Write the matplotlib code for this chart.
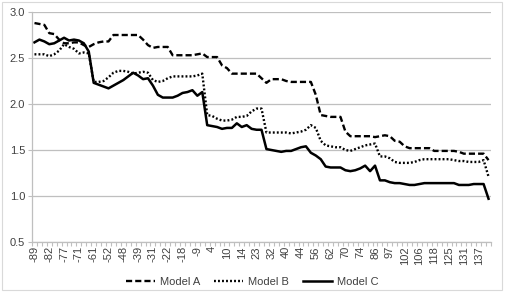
import numpy as np
import matplotlib
matplotlib.use("Agg")
import matplotlib.pyplot as plt
from matplotlib.patches import Rectangle

# category labels shown on the axis (every 3rd category is labelled)
tick_labels = ["-89", "-82", "-77", "-71", "-61", "-52", "-48", "-39", "-31", "-22",
               "-18", "-9", "4", "10", "14", "23", "32", "40", "44", "56",
               "62", "70", "74", "86", "97", "102", "106", "118", "125", "131", "137"]

model_a = [2.88, 2.87, 2.86, 2.77, 2.76, 2.70, 2.66, 2.66, 2.67, 2.67,
           2.64, 2.62, 2.65, 2.67, 2.68, 2.68, 2.75, 2.75, 2.75, 2.75,
           2.75, 2.75, 2.70, 2.64, 2.61, 2.62, 2.62, 2.62, 2.53, 2.53,
           2.53, 2.53, 2.53, 2.54, 2.55, 2.51, 2.51, 2.51, 2.42, 2.39,
           2.33, 2.33, 2.33, 2.33, 2.33, 2.33, 2.28, 2.23, 2.27, 2.27,
           2.27, 2.25, 2.24, 2.24, 2.24, 2.24, 2.24, 2.10, 1.88, 1.87,
           1.86, 1.86, 1.86, 1.70, 1.65, 1.65, 1.65, 1.65, 1.65, 1.64,
           1.65, 1.66, 1.65, 1.60, 1.59, 1.54, 1.52, 1.52, 1.52, 1.52,
           1.52, 1.49, 1.49, 1.49, 1.49, 1.49, 1.48, 1.46, 1.46, 1.46,
           1.46, 1.46, 1.39]

model_b = [2.54, 2.54, 2.54, 2.52, 2.54, 2.58, 2.65, 2.62, 2.60, 2.55,
           2.56, 2.55, 2.24, 2.24, 2.25, 2.29, 2.34, 2.36, 2.36, 2.35,
           2.33, 2.34, 2.35, 2.34, 2.26, 2.24, 2.25, 2.28, 2.30, 2.30,
           2.30, 2.30, 2.30, 2.31, 2.33, 1.88, 1.87, 1.84, 1.82, 1.82,
           1.83, 1.86, 1.86, 1.87, 1.92, 1.95, 1.95, 1.69, 1.69, 1.69,
           1.69, 1.69, 1.68, 1.69, 1.70, 1.72, 1.77, 1.74, 1.60, 1.55,
           1.54, 1.53, 1.53, 1.50, 1.49, 1.51, 1.53, 1.55, 1.56, 1.57,
           1.43, 1.43, 1.41, 1.37, 1.36, 1.36, 1.36, 1.37, 1.39, 1.40,
           1.40, 1.40, 1.40, 1.40, 1.40, 1.39, 1.38, 1.38, 1.37, 1.37,
           1.37, 1.39, 1.21]

model_c = [2.67, 2.70, 2.68, 2.65, 2.66, 2.69, 2.72, 2.69, 2.70, 2.69,
           2.66, 2.57, 2.23, 2.21, 2.19, 2.17, 2.20, 2.23, 2.26, 2.30,
           2.34, 2.31, 2.27, 2.28, 2.20, 2.10, 2.07, 2.07, 2.07, 2.09,
           2.12, 2.13, 2.15, 2.09, 2.13, 1.77, 1.76, 1.75, 1.73, 1.74,
           1.74, 1.79, 1.75, 1.77, 1.73, 1.72, 1.72, 1.51, 1.50, 1.49,
           1.48, 1.49, 1.49, 1.51, 1.53, 1.54, 1.47, 1.44, 1.40, 1.32,
           1.31, 1.31, 1.31, 1.28, 1.27, 1.28, 1.30, 1.33, 1.27, 1.33,
           1.17, 1.17, 1.15, 1.14, 1.14, 1.13, 1.12, 1.12, 1.13, 1.14,
           1.14, 1.14, 1.14, 1.14, 1.14, 1.14, 1.12, 1.12, 1.12, 1.13,
           1.13, 1.13, 0.97]

plt.rcParams['font.family'] = ['Liberation Sans', 'DejaVu Sans']
txt = '#404040'
grid = '#bfbfbf'

fig = plt.figure(figsize=(5.05, 2.92), dpi=100)
fig.patches.append(Rectangle((0.004, 0.006), 0.99, 0.988, transform=fig.transFigure,
                             fill=False, edgecolor='#d9d9d9', linewidth=0.8))
ax = fig.add_axes([32 / 505, 50 / 292, 459 / 505, 230 / 292])

x = np.arange(len(model_a))
ax.plot(x, model_a, color='black', lw=1.7, linestyle=(0, (2.6, 1.3)), label='Model A')
ax.plot(x, model_b, color='black', lw=1.7, linestyle=(0, (0.8, 0.9)), label='Model B')
ax.plot(x, model_c, color='black', lw=1.8, label='Model C')

ax.set_xlim(-0.5, len(x) - 0.5)
ax.set_ylim(0.5, 3.0)
ax.set_yticks([0.5, 1.0, 1.5, 2.0, 2.5, 3.0])
ax.set_yticklabels(['0.5', '1.0', '1.5', '2.0', '2.5', '3.0'])
ax.yaxis.grid(True, color=grid, linewidth=0.9)
ax.set_axisbelow(True)

ax.set_xticks(np.arange(0, len(x), 3))
ax.set_xticklabels(tick_labels, rotation=90)
ax.set_xticks(np.arange(-0.5, len(x), 1), minor=True)
ax.tick_params(axis='x', which='major', length=0, pad=3, labelsize=8, labelcolor=txt)
ax.tick_params(axis='x', which='minor', length=3, color=grid, width=0.8)
ax.tick_params(axis='y', length=3, color=grid, width=0.8, labelsize=8, labelcolor=txt, pad=2)

for s in ['top', 'right']:
    ax.spines[s].set_visible(False)
for s in ['left', 'bottom']:
    ax.spines[s].set_color(grid)
    ax.spines[s].set_linewidth(0.9)

ax.legend(loc='center', bbox_to_anchor=(0.48, -0.174), ncol=3, frameon=False,
          fontsize=8, handlelength=2.6, columnspacing=1.2, handletextpad=0.5,
          labelcolor=txt)

fig.savefig('out.png', dpi=100)
